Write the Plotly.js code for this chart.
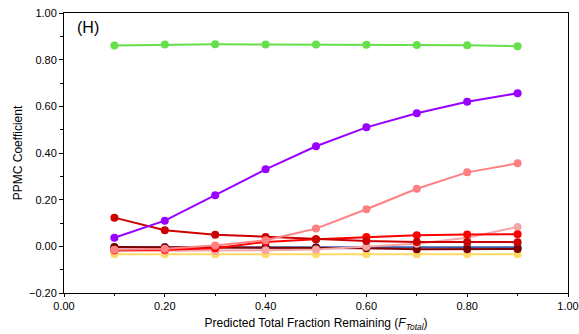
<!DOCTYPE html>
<html>
<head>
<meta charset="utf-8">
<script src="https://cdn.plot.ly/plotly-3.0.1.min.js"></script>
<style>
  html, body { margin: 0; padding: 0; background: #fff; }
  #chart { width: 579px; height: 334px; }
</style>
</head>
<body>
<div id="chart"></div>
<script>
// Predicted total fraction remaining
const fTotal = [0.1, 0.2, 0.3, 0.4, 0.5, 0.6, 0.7, 0.8, 0.9];

// PPMC coefficient for each series
const blueVals     = [-0.004, -0.004, -0.004, -0.004, -0.004, -0.004, -0.004, -0.004, -0.004];
const yellowVals   = [-0.034, -0.034, -0.034, -0.034, -0.034, -0.034, -0.034, -0.034, -0.034];
const maroonVals   = [-0.003, -0.004, -0.005, -0.006, -0.006, -0.008, -0.012, -0.012, -0.011];
const lightPinkVals= [-0.020, -0.020, -0.020, -0.017, -0.014, -0.002, 0.011, 0.037, 0.083];
const redVals      = [-0.017, -0.015, -0.008, 0.019, 0.030, 0.040, 0.047, 0.051, 0.052];
const darkRedVals  = [0.123, 0.069, 0.050, 0.040, 0.030, 0.023, 0.019, 0.019, 0.018];
const salmonVals   = [-0.015, -0.010, 0.004, 0.026, 0.076, 0.159, 0.247, 0.317, 0.356];
const purpleVals   = [0.037, 0.110, 0.219, 0.330, 0.429, 0.510, 0.570, 0.620, 0.656];
const greenVals    = [0.861, 0.865, 0.866, 0.865, 0.865, 0.864, 0.863, 0.862, 0.858];

const seriesList = [
  { y: blueVals,      color: '#3a5ba8' },
  { y: yellowVals,    color: '#ffd966' },
  { y: maroonVals,    color: '#7f0000' },
  { y: lightPinkVals, color: '#f4a6a6' },
  { y: redVals,       color: '#ff0000' },
  { y: darkRedVals,   color: '#cc0000' },
  { y: salmonVals,    color: '#ff8080' },
  { y: purpleVals,    color: '#9900ff' },
  { y: greenVals,     color: '#66e04a' }
];

const traces = seriesList.map(s => ({
  x: fTotal,
  y: s.y,
  type: 'scatter',
  mode: 'lines+markers',
  line: { color: s.color, width: 2 },
  marker: { color: s.color, size: 8 },
  hoverinfo: 'skip'
}));

const axisFont = { family: 'Liberation Sans, Arial, sans-serif', size: 11, color: '#000' };

const layout = {
  width: 579,
  height: 334,
  margin: { l: 64, r: 11, t: 13, b: 41 },
  paper_bgcolor: '#fff',
  plot_bgcolor: '#fff',
  showlegend: false,
  font: axisFont,
  xaxis: {
    range: [0, 1],
    dtick: 0.2,
    tick0: 0,
    tickformat: '.2f',
    showgrid: false,
    zeroline: false,
    showline: true,
    linecolor: '#000',
    linewidth: 1,
    mirror: true,
    ticks: 'outside',
    ticklen: 3,
    tickcolor: '#000',
    minor: { dtick: 0.1, ticks: 'outside', ticklen: 2, tickcolor: '#000' },
    tickfont: axisFont,
    title: {
      text: 'Predicted Total Fraction Remaining (<i>F<sub>Total</sub></i>)',
      font: { family: 'Liberation Sans, Arial, sans-serif', size: 12, color: '#000' },
      standoff: 7
    }
  },
  yaxis: {
    range: [-0.2, 1.0],
    dtick: 0.2,
    tick0: 0,
    tickformat: '.2f',
    showgrid: false,
    zeroline: false,
    showline: true,
    linecolor: '#000',
    linewidth: 1,
    mirror: true,
    ticks: 'outside',
    ticklen: 4,
    tickcolor: '#000',
    minor: { dtick: 0.1, ticks: 'outside', ticklen: 3, tickcolor: '#000' },
    tickfont: axisFont,
    title: {
      text: 'PPMC Coefficient',
      font: { family: 'Liberation Sans, Arial, sans-serif', size: 12, color: '#000' },
      standoff: 3
    }
  },
  annotations: [{
    text: '(H)',
    xref: 'paper', yref: 'paper',
    x: 0.022, y: 0.985,
    xanchor: 'left', yanchor: 'top',
    showarrow: false,
    font: { family: 'Liberation Sans, Arial, sans-serif', size: 16, color: '#000' }
  }]
};

Plotly.newPlot('chart', traces, layout, { staticPlot: true, displayModeBar: false });
</script>
</body>
</html>
